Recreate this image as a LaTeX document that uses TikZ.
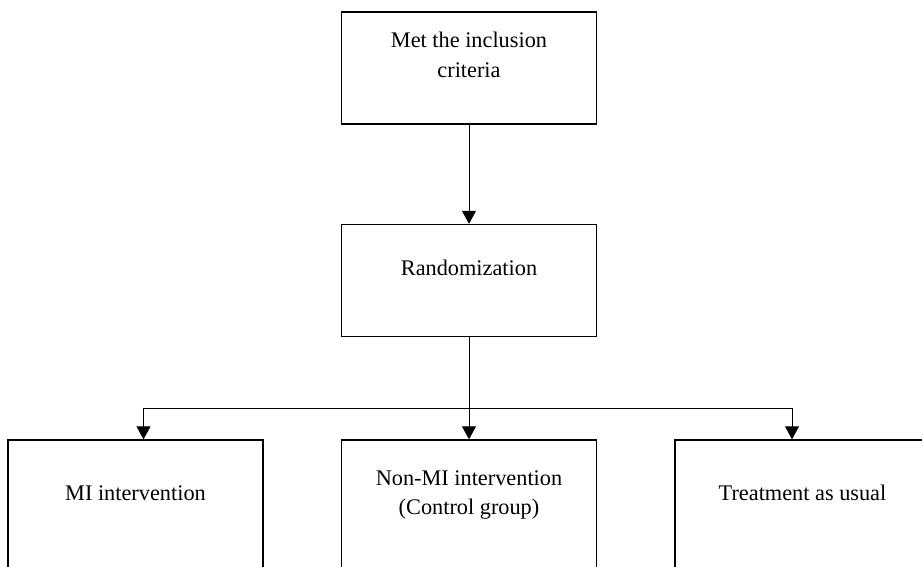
\documentclass[tikz,border=0pt]{standalone}
\usepackage{fontspec}
\setmainfont{Liberation Serif}
\usetikzlibrary{arrows.meta}
\begin{document}
\begin{tikzpicture}[x=1pt,y=-1pt,
  box/.style={draw=black,line width=1.4pt,rectangle,minimum width=255pt,inner sep=0pt},
  txt/.style={font=\fontsize{22.3}{29.5}\selectfont,align=center,inner sep=0pt,anchor=base},
  arr/.style={line width=1pt,-{Triangle[width=14pt,length=13pt]}}]
\useasboundingbox (0,0) rectangle (922,566);
\clip (0,0) rectangle (922,566);
% boxes
\node[box,minimum height=112pt] (top) at (469,68) {};
\node[box,minimum height=112pt] (rand) at (469,280.5) {};
\node[box,minimum height=160pt] (mi) at (135.5,520) {};
\node[box,minimum height=160pt] (ctrl) at (469,520) {};
\node[box,minimum height=160pt] (tau) at (802.5,520) {};
% texts
\node[txt] at (469,47) {Met the inclusion};
\node[txt] at (469,77) {criteria};
\node[txt] at (469,275.5) {Randomization};
\node[txt] at (135.5,500) {MI intervention};
\node[txt] at (469,485) {Non-MI intervention};
\node[txt] at (469,514) {(Control group)};
\node[txt] at (802.5,500) {Treatment as usual};
% connectors
\coordinate (split) at (469,408.5);
\draw[arr] (top.south) -- (rand.north);
\draw[line width=1pt] (rand.south) -- (split);
\draw[arr] (split) -- (ctrl.north);
\draw[arr] (split) -| ([xshift=8pt]mi.north);
\draw[arr] (split) -| ([xshift=-10.5pt]tau.north);
\end{tikzpicture}
\end{document}
